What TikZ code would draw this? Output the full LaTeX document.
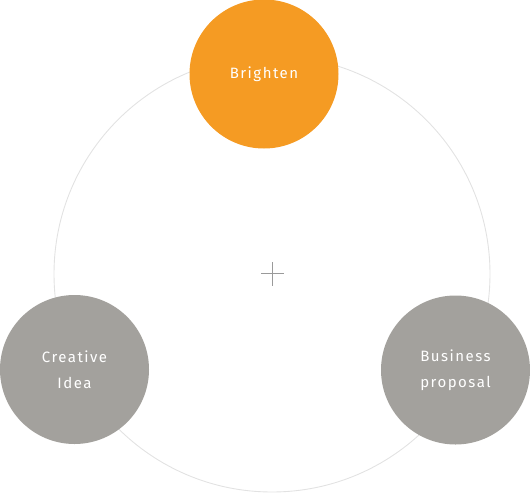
\documentclass[tikz,border=0pt]{standalone}
\usepackage{fontspec}
\setmainfont{Fira Sans}[LetterSpace=10]
\definecolor{orangec}{HTML}{F59B23}
\definecolor{grayc}{HTML}{A3A19D}
\definecolor{ringc}{HTML}{E2E2E2}
\definecolor{plusc}{HTML}{9A9A9A}
\begin{document}
\begin{tikzpicture}[x=1pt,y=-1pt,
  ring/.style={draw=ringc,line width=0.9pt},
  bubble/.style={circle,minimum size=149pt,inner sep=0pt,text=white,
    font=\fontsize{15}{26}\selectfont,align=center},
  plusline/.style={draw=plusc,line width=1.2pt}]
\useasboundingbox (0,0) rectangle (530,493);
\coordinate (c) at (272,274);
\draw[ring] (c) circle[radius=218];
\node[bubble,fill=orangec] (brighten) at (264,74) {Brighten};
\node[bubble,fill=grayc,text depth=0pt] (creative) at (74.5,369.5) {Creative\\Idea};
\node[bubble,fill=grayc] (business) at (455.5,370) {Business\\proposal};
\coordinate (pl) at (261,273.5);
\coordinate (pr) at (284,273.5);
\coordinate (pt) at (272.5,262);
\coordinate (pb) at (272.5,285.5);
\draw[plusline] (pl) -- (pr);
\draw[plusline] (pt) -- (pb);
\end{tikzpicture}
\end{document}
